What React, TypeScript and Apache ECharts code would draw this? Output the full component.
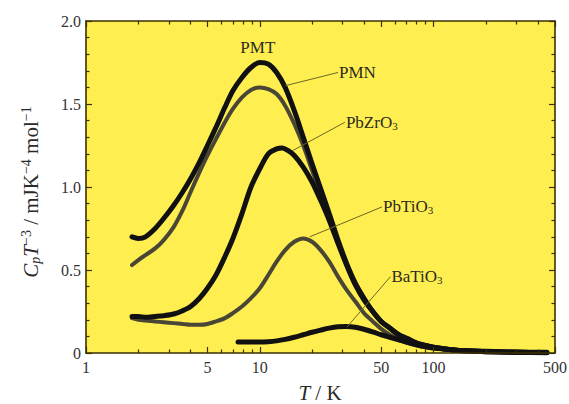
import React, { useEffect, useRef } from "react";
import * as echarts from "echarts";

const FONT = "Liberation Serif";

const xMajorTicks = [1, 5, 10, 50, 100, 500];
const xMinorTicks = [2, 3, 4, 6, 7, 8, 9, 20, 30, 40, 60, 70, 80, 90, 200, 300, 400];

const pmt: [number, number][] = [
  [1.84, 0.7], [2.0, 0.69], [2.2, 0.7], [2.5, 0.75], [2.8, 0.81], [3.2, 0.89], [3.6, 0.97],
  [4.0, 1.05], [4.5, 1.15], [5.0, 1.25], [5.6, 1.36], [6.3, 1.48], [7.0, 1.58], [7.9, 1.66],
  [8.9, 1.72], [10.0, 1.75], [11.2, 1.74], [12.5, 1.69], [14.0, 1.6], [15.8, 1.46],
  [17.8, 1.3], [20.0, 1.14], [22.4, 0.99], [25.1, 0.84], [28.2, 0.68], [31.6, 0.54],
  [35.5, 0.42], [39.8, 0.33], [44.7, 0.25], [50, 0.19], [56, 0.15], [63, 0.11], [71, 0.085],
  [80, 0.06], [90, 0.045], [100, 0.035], [126, 0.02], [160, 0.012], [200, 0.008], [300, 0.004],
  [450, 0.002],
];

const pmn: [number, number][] = [
  [1.84, 0.53], [2.0, 0.56], [2.2, 0.59], [2.5, 0.63], [2.8, 0.68], [3.2, 0.76], [3.6, 0.86],
  [4.0, 0.97], [4.5, 1.09], [5.0, 1.19], [5.6, 1.29], [6.3, 1.39], [7.0, 1.47], [7.9, 1.54],
  [8.9, 1.585], [10.0, 1.6], [11.2, 1.59], [12.5, 1.56], [14.0, 1.49], [15.8, 1.38],
  [17.8, 1.25], [20.0, 1.1], [22.4, 0.96], [25.1, 0.82], [28.2, 0.67], [31.6, 0.53],
  [35.5, 0.41], [39.8, 0.32], [44.7, 0.25], [50, 0.19], [56, 0.15], [63, 0.11], [71, 0.085],
  [80, 0.06], [90, 0.045], [100, 0.035], [126, 0.02], [160, 0.012], [200, 0.008], [300, 0.004],
  [450, 0.002],
];

const pbzro3: [number, number][] = [
  [1.84, 0.22], [2.0, 0.22], [2.2, 0.215], [2.5, 0.22], [2.8, 0.225], [3.2, 0.235],
  [3.6, 0.255], [4.0, 0.28], [4.5, 0.33], [5.0, 0.39], [5.6, 0.47], [6.3, 0.58], [7.0, 0.69],
  [7.9, 0.84], [8.9, 1.0], [10.0, 1.11], [11.2, 1.2], [12.5, 1.23], [13.5, 1.235],
  [14.5, 1.22], [15.8, 1.19], [17.8, 1.12], [20.0, 1.03], [22.4, 0.92], [25.1, 0.8],
  [28.2, 0.66], [31.6, 0.53], [35.5, 0.41], [39.8, 0.32], [44.7, 0.25], [50, 0.19], [56, 0.15],
  [63, 0.11], [71, 0.085], [80, 0.06], [90, 0.045], [100, 0.035], [126, 0.02], [160, 0.012],
  [200, 0.008], [300, 0.004], [450, 0.002],
];

const pbtio3: [number, number][] = [
  [1.84, 0.21], [2.0, 0.2], [2.2, 0.195], [2.5, 0.19], [2.8, 0.185], [3.2, 0.18], [3.6, 0.175],
  [4.0, 0.17], [4.5, 0.17], [5.0, 0.175], [5.6, 0.19], [6.3, 0.21], [7.0, 0.24], [7.9, 0.28],
  [8.9, 0.33], [10.0, 0.39], [11.2, 0.47], [12.5, 0.55], [14.0, 0.62], [15.8, 0.67],
  [17.8, 0.69], [20.0, 0.67], [22.4, 0.62], [25.1, 0.55], [28.2, 0.46], [31.6, 0.38],
  [35.5, 0.31], [39.8, 0.24], [44.7, 0.19], [50, 0.145], [56, 0.11], [63, 0.08], [71, 0.06],
  [80, 0.045], [90, 0.035], [100, 0.028], [126, 0.018], [160, 0.012], [200, 0.008],
  [300, 0.005], [450, 0.003],
];

const batio3: [number, number][] = [
  [7.5, 0.066], [8.9, 0.066], [10, 0.066], [11.2, 0.068], [12.5, 0.073], [14, 0.082],
  [15.8, 0.095], [17.8, 0.11], [20, 0.125], [22.4, 0.138], [25.1, 0.15], [28.2, 0.158],
  [31.6, 0.16], [35.5, 0.155], [39.8, 0.143], [44.7, 0.127], [50, 0.11], [56, 0.095],
  [63, 0.08], [71, 0.064], [80, 0.05], [90, 0.038], [100, 0.03], [126, 0.02], [160, 0.013],
  [200, 0.01], [300, 0.006], [450, 0.004],
];

// leader lines: [start, end] in data coordinates
const pmnLeader: [number, number][] = [[14.0, 1.61], [28.2, 1.69]];
const pbzro3Leader: [number, number][] = [[15.5, 1.22], [30.9, 1.39]];
const pbtio3Leader: [number, number][] = [[19.4, 0.7], [50.5, 0.88]];
const batio3Leader: [number, number][] = [[31.8, 0.157], [56.5, 0.46]];
const pmtLabelPos: [number, number][] = [[9.75, 1.84]];

const INK = "#3b3000";

const labelRich = {
  n: { fontFamily: FONT, fontSize: 17, color: "#2a2a22" },
  s: { fontFamily: FONT, fontSize: 11, color: "#2a2a22", padding: [7, 0, 0, 0] },
};

const titleRich = {
  i: { fontFamily: FONT, fontSize: 21, fontStyle: "italic", fill: "#2a2a2a", color: "#2a2a2a" },
  r: { fontFamily: FONT, fontSize: 21, fill: "#2a2a2a", color: "#2a2a2a" },
  sb: { fontFamily: FONT, fontSize: 14, fontStyle: "italic", fill: "#2a2a2a", color: "#2a2a2a", padding: [8, 0, 0, 0] },
  sp: { fontFamily: FONT, fontSize: 14, fill: "#2a2a2a", color: "#2a2a2a", padding: [0, 0, 9, 0] },
};

function leaderSeries(name: string, coords: [number, number][], text: string) {
  return {
    type: "line",
    name,
    data: coords,
    xAxisIndex: 0,
    yAxisIndex: 0,
    symbol: "none",
    showSymbol: false,
    silent: true,
    z: 4,
    lineStyle: { color: "#6b6624", width: 1 },
    emphasis: { disabled: true },
    endLabel: { show: true, distance: 1, color: "#2a2a22", formatter: () => text, rich: labelRich },
  };
}

function xAxisCfg(position: string, ticks: number[], len: number, showLabel: boolean, showLine: boolean) {
  return {
    type: "log",
    logBase: 10,
    min: 1,
    max: 500,
    position,
    z: 10,
    axisLine: { show: showLine, onZero: false, lineStyle: { color: INK, width: 1.6 } },
    axisTick: { show: true, inside: true, length: len, customValues: ticks, lineStyle: { color: INK, width: 1.2 } },
    axisLabel: {
      show: showLabel,
      customValues: ticks,
      margin: 6,
      fontFamily: FONT,
      fontSize: 16,
      color: "#333",
    },
    splitLine: { show: false },
  };
}

function yAxisCfg(position: string, showLabel: boolean) {
  return {
    type: "value",
    min: 0,
    max: 2,
    interval: 0.5,
    position,
    z: 10,
    axisLine: { show: true, onZero: false, lineStyle: { color: INK, width: 1.6 } },
    axisTick: { show: true, inside: true, length: 6, lineStyle: { color: INK, width: 1.2 } },
    minorTick: { show: true, splitNumber: 5, length: 3.5, lineStyle: { color: INK, width: 1.2 } },
    axisLabel: {
      show: showLabel,
      margin: 5,
      fontFamily: FONT,
      fontSize: 16,
      color: "#333",
      formatter: (v: number) => (v === 0 ? "0" : v.toFixed(1)),
    },
    splitLine: { show: false },
  };
}

export default function App() {
  const ref = useRef<HTMLDivElement>(null);
  useEffect(() => {
    if (!ref.current) return;
    const chart = echarts.init(ref.current, undefined, { renderer: "svg" });
    const curve = (name: string, data: [number, number][], color: string, width: number) => ({
      type: "line",
      name,
      data,
      xAxisIndex: 0,
      yAxisIndex: 0,
      smooth: 0.3,
      showSymbol: false,
      symbol: "none",
      z: 3,
      lineStyle: { color, width, cap: "round", join: "round" },
      emphasis: { disabled: true },
    });
    chart.setOption({
      animation: false,
      backgroundColor: "#ffffff",
      grid: {
        left: 86,
        right: 14,
        top: 21,
        bottom: 51,
        show: true,
        backgroundColor: "#ffee4f",
        borderWidth: 0,
        containLabel: false,
        outerBoundsMode: "none",
      },
      xAxis: [
        xAxisCfg("bottom", xMajorTicks, 6, true, true),
        xAxisCfg("bottom", xMinorTicks, 3.5, false, false),
        xAxisCfg("top", xMajorTicks, 6, false, true),
        xAxisCfg("top", xMinorTicks, 3.5, false, false),
      ],
      yAxis: [yAxisCfg("left", true), yAxisCfg("right", false)],
      graphic: [
        {
          type: "text",
          x: 320,
          y: 393,
          silent: true,
          style: {
            text: "{i|T}{r| / K}",
            rich: titleRich,
            align: "center",
            verticalAlign: "middle",
            fill: "#2a2a2a",
            font: "21px 'Liberation Serif'",
          },
        },
        {
          type: "text",
          x: 31,
          y: 192,
          rotation: Math.PI / 2,
          silent: true,
          style: {
            text: "{i|C}{sb|p}{i|T}{sp|−3}{r| / mJK}{sp|−4}{r| mol}{sp|−1}",
            rich: titleRich,
            align: "center",
            verticalAlign: "middle",
            fill: "#2a2a2a",
            font: "21px 'Liberation Serif'",
          },
        },
      ],
      series: [
        curve("PbTiO3", pbtio3, "#4a4636", 4),
        curve("PMN", pmn, "#4a4636", 4),
        curve("BaTiO3", batio3, "#111", 5),
        curve("PbZrO3", pbzro3, "#111", 5),
        curve("PMT", pmt, "#111", 5),
        leaderSeries("PMN label", pmnLeader, "{n|PMN}"),
        leaderSeries("PbZrO3 label", pbzro3Leader, "{n|PbZrO}{s|3}"),
        leaderSeries("PbTiO3 label", pbtio3Leader, "{n|PbTiO}{s|3}"),
        leaderSeries("BaTiO3 label", batio3Leader, "{n|BaTiO}{s|3}"),
        {
          type: "scatter",
          name: "PMT label",
          data: pmtLabelPos,
          xAxisIndex: 0,
          yAxisIndex: 0,
          symbolSize: 1,
          silent: true,
          z: 4,
          itemStyle: { color: "#ffee4f", opacity: 1 },
          emphasis: { disabled: true },
          label: {
            show: true,
            position: "inside",
            color: "#2a2a22",
            opacity: 1,
            formatter: () => "{n|PMT}",
            rich: labelRich,
          },
        },
      ],
    });
    return () => chart.dispose();
  }, []);
  return (
    <div ref={ref} style={{ position: "fixed", left: 0, top: 0, width: 569, height: 404, background: "#fff" }} />
  );
}
